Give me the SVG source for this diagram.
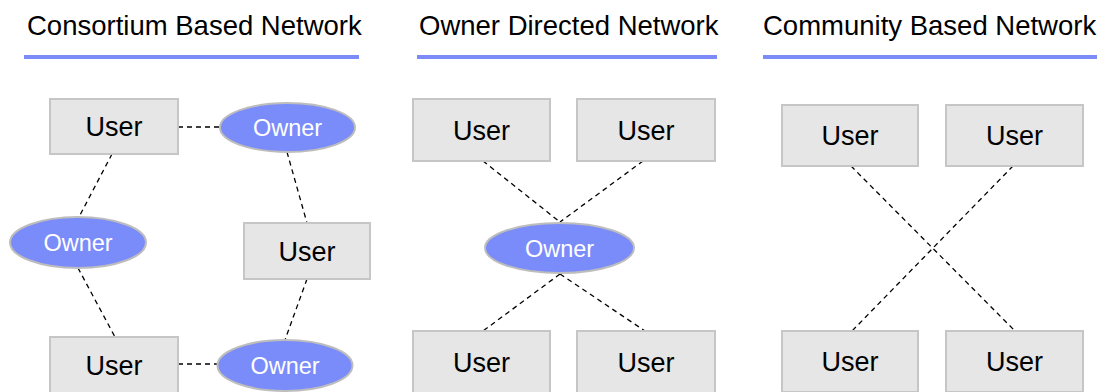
<svg xmlns="http://www.w3.org/2000/svg" width="1108" height="392" viewBox="0 0 1108 392">
  <style>
    .title { font-family: "Liberation Sans", Arial, sans-serif; font-size: 27.5px; fill: #000; }
    .rule { stroke: #7b8cf8; stroke-width: 4; }
    .user rect { fill: #e6e6e6; stroke: #c6c6c6; stroke-width: 2; }
    .user text { font-family: "Liberation Sans", Arial, sans-serif; font-size: 27px; fill: #000; text-anchor: middle; }
    .owner ellipse { fill: #7a8bfa; stroke: #bdbdbd; stroke-width: 2; }
    .owner text { font-family: "Liberation Sans", Arial, sans-serif; font-size: 23.5px; fill: #fff; text-anchor: middle; }
    .link { stroke: #000; stroke-width: 1.3; stroke-dasharray: 5 4; fill: none; }
  </style>
  <rect width="1108" height="392" fill="#fff"/>

  <!-- section headings -->
  <g id="headings">
    <text class="title" x="27" y="35">Consortium Based Network</text>
    <line class="rule" x1="24" y1="57" x2="359" y2="57"/>
    <text class="title" x="419" y="35">Owner Directed Network</text>
    <line class="rule" x1="417" y1="57" x2="717" y2="57"/>
    <text class="title" x="763" y="35">Community Based Network</text>
    <line class="rule" x1="763" y1="57" x2="1097" y2="57"/>
  </g>

  <!-- connectors -->
  <g id="connectors">
    <!-- consortium ring -->
    <line class="link" x1="178" y1="127" x2="220" y2="127"/>
    <line class="link" x1="112" y1="154" x2="79" y2="217"/>
    <line class="link" x1="78" y1="268" x2="115" y2="337"/>
    <line class="link" x1="287" y1="152" x2="307" y2="223"/>
    <line class="link" x1="307" y1="279" x2="285" y2="340"/>
    <line class="link" x1="178" y1="364" x2="218" y2="364"/>
    <!-- owner directed star -->
    <line class="link" x1="483" y1="161" x2="560" y2="222"/>
    <line class="link" x1="643" y1="161" x2="560" y2="222"/>
    <line class="link" x1="560" y1="274" x2="483" y2="331"/>
    <line class="link" x1="560" y1="274" x2="645" y2="331"/>
    <!-- community mesh -->
    <line class="link" x1="851" y1="166" x2="1015" y2="331"/>
    <line class="link" x1="1013" y1="166" x2="852" y2="331"/>
  </g>

  <!-- consortium based network -->
  <g id="c-user-1" class="user"><rect x="50" y="99" width="128" height="55"/><text x="114" y="136">User</text></g>
  <g id="c-owner-1" class="owner"><ellipse cx="287.5" cy="127.5" rx="67.5" ry="24.5"/><text x="287.5" y="136">Owner</text></g>
  <g id="c-owner-2" class="owner"><ellipse cx="78" cy="242.5" rx="68" ry="25.5"/><text x="78" y="251">Owner</text></g>
  <g id="c-user-2" class="user"><rect x="244" y="223" width="126" height="56"/><text x="307" y="260.5">User</text></g>
  <g id="c-user-3" class="user"><rect x="50" y="337" width="128" height="56"/><text x="114" y="374.5">User</text></g>
  <g id="c-owner-3" class="owner"><ellipse cx="285" cy="365.5" rx="67.5" ry="25.5"/><text x="285" y="374">Owner</text></g>

  <!-- owner directed network -->
  <g id="o-user-1" class="user"><rect x="413" y="99" width="137" height="62"/><text x="481.5" y="139.5">User</text></g>
  <g id="o-user-2" class="user"><rect x="577" y="99" width="138" height="62"/><text x="646" y="139.5">User</text></g>
  <g id="o-owner" class="owner"><ellipse cx="559.5" cy="248" rx="74.5" ry="25"/><text x="559.5" y="256.5">Owner</text></g>
  <g id="o-user-3" class="user"><rect x="413" y="331" width="137" height="62"/><text x="481.5" y="371.5">User</text></g>
  <g id="o-user-4" class="user"><rect x="577" y="331" width="138" height="62"/><text x="646" y="371.5">User</text></g>

  <!-- community based network -->
  <g id="m-user-1" class="user"><rect x="782" y="105" width="136" height="61"/><text x="850" y="145">User</text></g>
  <g id="m-user-2" class="user"><rect x="946" y="105" width="137" height="61"/><text x="1014.5" y="145">User</text></g>
  <g id="m-user-3" class="user"><rect x="782" y="331" width="136" height="61"/><text x="850" y="371">User</text></g>
  <g id="m-user-4" class="user"><rect x="946" y="331" width="137" height="61"/><text x="1014.5" y="371">User</text></g>
</svg>
